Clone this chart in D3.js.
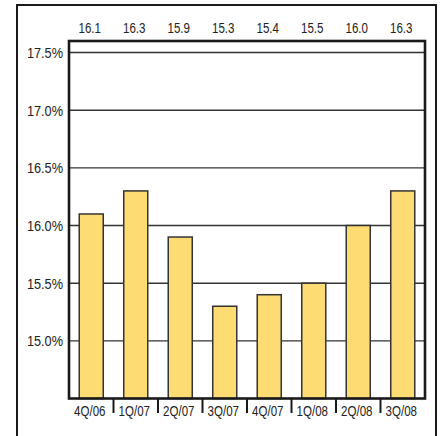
<!DOCTYPE html>
<html>
<head>
<meta charset="utf-8">
<script src="https://cdn.jsdelivr.net/npm/d3@7"></script>
<style>
  html, body { margin: 0; padding: 0; background: #fff; }
  svg { display: block; }
  text { font-family: "Liberation Sans", Arial, Helvetica, sans-serif; fill: #222; }
</style>
</head>
<body>
<svg id="chart" width="441" height="436"></svg>
<script>
// Quarterly ratio (%)
const quarters = ["4Q/06", "1Q/07", "2Q/07", "3Q/07", "4Q/07", "1Q/08", "2Q/08", "3Q/08"];
const values = [16.1, 16.3, 15.9, 15.3, 15.4, 15.5, 16.0, 16.3];
const yTicks = [15.0, 15.5, 16.0, 16.5, 17.0, 17.5];

const svg = d3.select("#chart");
const plot = { left: 69, right: 425, top: 41, bottom: 398.5 };
const squeeze = 0.77; // narrow type

const x = d3.scaleBand().domain(quarters).range([plot.left, plot.right]).paddingInner(0.46).paddingOuter(0.23);
const xb = d3.scaleBand().domain(quarters).range([plot.left, plot.right]);
const y = d3.scaleLinear().domain([14.5, 17.6]).range([plot.bottom, plot.top]);

// outer frame (open at the bottom)
svg.append("path")
  .attr("d", "M17,436 V5 H436 V436")
  .attr("fill", "none").attr("stroke", "#1a1a1a").attr("stroke-width", 2);

// gridlines
svg.append("g").selectAll("line").data(yTicks).join("line")
  .attr("x1", plot.left).attr("x2", plot.right)
  .attr("y1", d => y(d)).attr("y2", d => y(d))
  .attr("stroke", "#333").attr("stroke-width", 1.4);

// bars
svg.append("g").selectAll("rect").data(values).join("rect")
  .attr("x", (d, i) => x(quarters[i]))
  .attr("width", x.bandwidth())
  .attr("y", d => y(d))
  .attr("height", d => plot.bottom - y(d))
  .attr("fill", "#FDDC74")
  .attr("stroke", "#333").attr("stroke-width", 1.5);

// plot border
svg.append("rect")
  .attr("x", plot.left).attr("y", plot.top)
  .attr("width", plot.right - plot.left).attr("height", plot.bottom - plot.top)
  .attr("fill", "none").attr("stroke", "#1a1a1a").attr("stroke-width", 2.6);

// y-axis labels
svg.append("g").selectAll("text").data(yTicks).join("text")
  .attr("transform", d => `translate(63,${y(d)}) scale(0.85,1)`)
  .attr("text-anchor", "end").attr("dy", "0.36em")
  .attr("font-size", 15)
  .text(d => d3.format(".1f")(d) + "%");

// value row above the plot
svg.append("g").selectAll("text").data(values).join("text")
  .attr("transform", (d, i) => `translate(${xb(quarters[i]) + xb.bandwidth() / 2 - 1.5},33) scale(${squeeze},1)`)
  .attr("text-anchor", "middle")
  .attr("font-size", 15)
  .text(d => d3.format(".1f")(d));

// category ticks between quarters
svg.append("g").selectAll("line").data(quarters.slice(1)).join("line")
  .attr("x1", d => xb(d)).attr("x2", d => xb(d))
  .attr("y1", plot.bottom).attr("y2", 413)
  .attr("stroke", "#1a1a1a").attr("stroke-width", 2);

// category labels
svg.append("g").selectAll("text").data(quarters).join("text")
  .attr("transform", d => `translate(${xb(d) + xb.bandwidth() / 2 - 1.5},416) scale(${squeeze},1)`)
  .attr("text-anchor", "middle")
  .attr("font-size", 15)
  .text(d => d);
</script>
</body>
</html>
